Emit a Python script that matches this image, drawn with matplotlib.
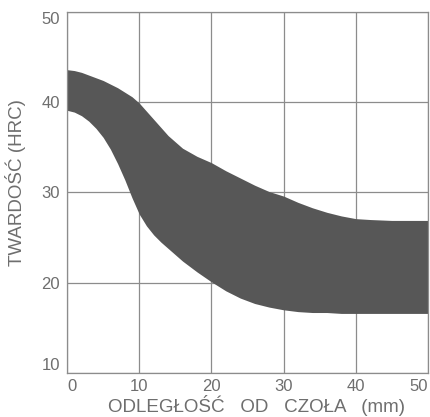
import numpy as np
import matplotlib.pyplot as plt

plt.rcParams['font.family'] = ['Liberation Sans', 'DejaVu Sans']

# odleglosc od czola (mm) i granice pasma hartownosci (HRC)
odleglosc = [0, 1, 2, 3, 4, 5, 6, 7, 8, 9, 10, 11, 12, 13, 14, 16, 18, 20, 22, 24,
             26, 28, 30, 32, 34, 36, 38, 40, 42, 45, 50]
twardosc_max = [43.6, 43.5, 43.3, 43.0, 42.7, 42.4, 42.0, 41.6, 41.1, 40.6, 39.9, 39.0,
                38.1, 37.2, 36.3, 34.9, 34.0, 33.3, 32.4, 31.6, 30.8, 30.1, 29.6, 28.9,
                28.3, 27.8, 27.4, 27.1, 27.0, 26.9, 26.9]
twardosc_min = [39.1, 38.9, 38.5, 37.9, 37.1, 36.1, 34.8, 33.2, 31.4, 29.4, 27.6, 26.3,
                25.3, 24.5, 23.8, 22.4, 21.2, 20.1, 19.1, 18.3, 17.7, 17.3, 17.0, 16.8,
                16.7, 16.7, 16.6, 16.6, 16.6, 16.6, 16.6]

xticks = [0, 10, 20, 30, 40, 50]
yticks = [10, 20, 30, 40, 50]

kolor_tekstu = '#6e6e6e'
kolor_siatki = '#8c8c8c'

fig = plt.figure(figsize=(4.30, 4.17), dpi=100)
ax = fig.add_axes([0.156, 0.1055, 0.839, 0.866])

ax.fill_between(odleglosc, twardosc_min, twardosc_max, color='#575757', lw=0, zorder=2)

ax.set_xlim(0, 50)
ax.set_ylim(10, 50)
ax.set_xticks(xticks)
ax.set_yticks(yticks)
ax.grid(True, color=kolor_siatki, lw=0.9, zorder=1)
ax.set_axisbelow(True)
for s in ax.spines.values():
    s.set_color(kolor_siatki)
    s.set_linewidth(0.9)
ax.tick_params(length=0, labelsize=12, colors=kolor_tekstu)
ax.tick_params(axis='x', pad=4)
ax.tick_params(axis='y', pad=5)

xl = ax.get_xticklabels()
xl[0].set_ha('left')
xl[-1].set_ha('right')
yl = ax.get_yticklabels()
yl[0].set_va('bottom')
yl[-1].set_va('top')

ax.set_xlabel('ODLEGŁOŚĆ   OD   CZOŁA   (mm)', fontsize=13.5, color=kolor_tekstu)
ax.set_ylabel('TWARDOŚĆ (HRC)', fontsize=13.5, color=kolor_tekstu)
ax.xaxis.set_label_coords(0.526, -0.062)
ax.yaxis.set_label_coords(-0.115, 0.526)

fig.savefig('out.png', dpi=100)
